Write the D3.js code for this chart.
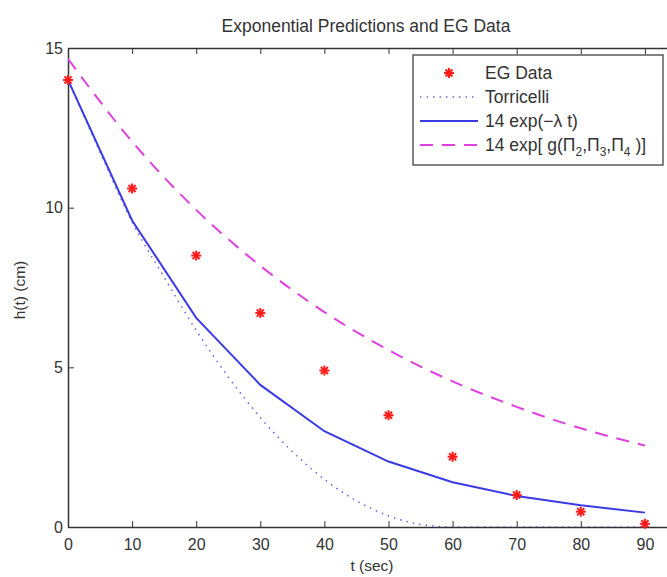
<!DOCTYPE html>
<html><head><meta charset="utf-8">
<script src="https://cdn.jsdelivr.net/npm/d3@7"></script>
<style>body{margin:0;background:#fff}svg{display:block;font-family:"Liberation Sans",Arial,sans-serif}</style>
</head><body><div id="c"></div>
<script>
// Data
const egT = [0,10,20,30,40,50,60,70,80,90];
const egH = [14,10.6,8.5,6.7,4.9,3.5,2.2,1.0,0.48,0.1];
const expT = [0,10,20,30,40,50,60,70,80,90];
const expH = [14,9.6,6.55,4.45,3.0,2.05,1.4,0.97,0.68,0.45];
const gT = [0,10,20,30,40,50,60,70,80,90];
const gH = [14.66,12.07,9.93,8.18,6.73,5.54,4.56,3.76,3.09,2.55];
const torT = [0,5,10,15,20,25,30,35,40,45,50,55,60,65,70,75,80,85,90];
const torH = [14,11.74,9.55,7.82,6.16,4.70,3.43,2.36,1.49,0.82,0.35,0.08,0,0,0,0,0,0,0];
const xTicks = [0,10,20,30,40,50,60,70,80,90];
const yTicks = [0,5,10,15];

const W=667,H=577;
const svg=d3.select("#c").append("svg").attr("width",W).attr("height",H);
const x=d3.scaleLinear().domain([0,100]).range([68,709]);
const y=d3.scaleLinear().domain([0,15]).range([527,48]);
const axisCol="#333";
const txtCol="#333";

svg.append("defs").append("clipPath").attr("id","clip").append("rect")
  .attr("x",x(0)).attr("y",y(15)).attr("width",x(100)-x(0)).attr("height",y(0)-y(15));

// title
svg.append("text").attr("x",366).attr("y",32).attr("text-anchor","middle")
  .attr("font-size",17.5).attr("fill",txtCol).text("Exponential Predictions and EG Data");
svg.append("text").attr("x",372).attr("y",571).attr("text-anchor","middle")
  .attr("font-size",15.5).attr("fill",txtCol).text("t (sec)");
svg.append("text").attr("transform","translate(25,290) rotate(-90)").attr("text-anchor","middle")
  .attr("font-size",15.5).attr("fill",txtCol).text("h(t) (cm)");

// axes
const xb=svg.append("g").attr("transform",`translate(0,${y(0)})`)
  .call(d3.axisBottom(x).tickValues(xTicks).tickSizeInner(-6).tickSizeOuter(0).tickPadding(12));
const xt=svg.append("g").attr("transform",`translate(0,${y(15)})`)
  .call(d3.axisTop(x).tickValues(xTicks).tickSizeInner(-6).tickSizeOuter(0).tickFormat(""));
const yl=svg.append("g").attr("transform",`translate(${x(0)},0)`)
  .call(d3.axisLeft(y).tickValues(yTicks).tickSizeInner(-6).tickSizeOuter(0).tickPadding(5));
[xb,xt,yl].forEach(g=>{
  g.selectAll("path").attr("stroke",axisCol).attr("stroke-width",1.5);
  g.selectAll("line").attr("stroke",axisCol).attr("stroke-width",1);
  g.selectAll("text").attr("font-size",16).attr("fill",txtCol).attr("font-family","Liberation Sans, Arial, sans-serif");
});

const plot=svg.append("g").attr("clip-path","url(#clip)");
const line=d3.line().x(d=>x(d[0])).y(d=>y(d[1]));
const smooth=d3.line().x(d=>x(d[0])).y(d=>y(d[1])).curve(d3.curveMonotoneX);

plot.append("path").datum(torT.map((t,i)=>[t,torH[i]])).attr("d",smooth)
  .attr("fill","none").attr("stroke","#6a6ae0").attr("stroke-width",1.6).attr("stroke-dasharray","1.5,5");
plot.append("path").datum(expT.map((t,i)=>[t,expH[i]])).attr("d",line)
  .attr("fill","none").attr("stroke","#3a3ae6").attr("stroke-width",2);
plot.append("path").datum(gT.map((t,i)=>[t,gH[i]])).attr("d",smooth)
  .attr("fill","none").attr("stroke","#e040e0").attr("stroke-width",2).attr("stroke-dasharray","13,9");

function star(g,cx,cy,r){
  const a=[0,45,90,135];
  a.forEach(deg=>{
    const rad=deg*Math.PI/180,dx=Math.cos(rad)*r,dy=Math.sin(rad)*r;
    g.append("line").attr("x1",cx-dx).attr("y1",cy-dy).attr("x2",cx+dx).attr("y2",cy+dy)
      .attr("stroke","#ff1a1a").attr("stroke-width",2);
  });
}
const mg=svg.append("g");
egT.forEach((t,i)=>star(mg,x(t),y(egH[i]),5));

// legend
const lg=svg.append("g");
lg.append("rect").attr("x",413).attr("y",55).attr("width",250).attr("height",110)
  .attr("fill","#fff").attr("stroke","#333").attr("stroke-width",1.2);
const ly=[73,97,121,145], lx0=420, lx1=478, tx=485;
star(lg,(lx0+lx1)/2,ly[0],5);
lg.append("line").attr("x1",lx0).attr("x2",lx1).attr("y1",ly[1]).attr("y2",ly[1])
  .attr("stroke","#6a6ae0").attr("stroke-width",1.6).attr("stroke-dasharray","1.5,5");
lg.append("line").attr("x1",lx0).attr("x2",lx1).attr("y1",ly[2]).attr("y2",ly[2])
  .attr("stroke","#3a3ae6").attr("stroke-width",2);
lg.append("line").attr("x1",lx0).attr("x2",lx1).attr("y1",ly[3]).attr("y2",ly[3])
  .attr("stroke","#e040e0").attr("stroke-width",2).attr("stroke-dasharray","13,9");
function lt(i,s){const t=lg.append("text").attr("x",tx).attr("y",ly[i]+6).attr("font-size",17.5).attr("fill",txtCol);if(s)t.text(s);return t;}
lt(0,"EG Data"); lt(1,"Torricelli"); lt(2,"14 exp(\u2212\u03bb t)");
const t4=lt(3);
t4.append("tspan").text("14 exp[ g(\u03a0");
t4.append("tspan").attr("font-size",12).attr("dy",5).text("2");
t4.append("tspan").attr("dy",-5).text(",\u03a0");
t4.append("tspan").attr("font-size",12).attr("dy",5).text("3");
t4.append("tspan").attr("dy",-5).text(",\u03a0");
t4.append("tspan").attr("font-size",12).attr("dy",5).text("4");
t4.append("tspan").attr("dy",-5).text(" )]");
</script></body></html>
